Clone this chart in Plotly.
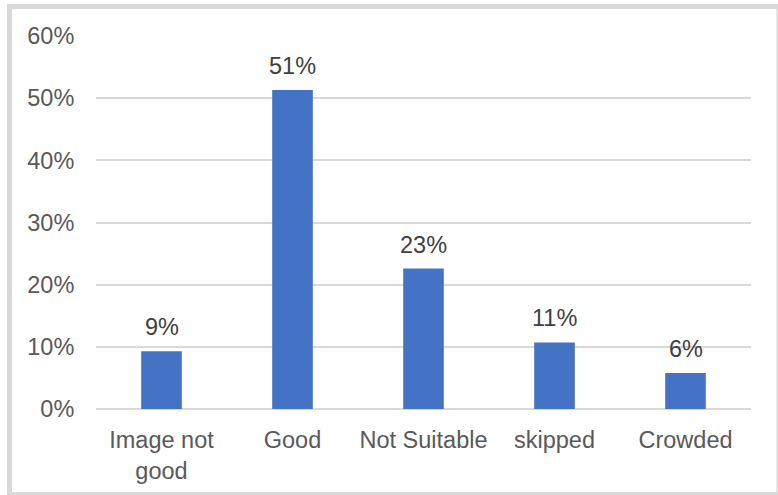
import plotly.graph_objects as go

categories = ["Image not good", "Good", "Not Suitable", "skipped", "Crowded"]
tick_labels = ["Image not<br>good", "Good", "Not Suitable", "skipped", "Crowded"]
values = [0.093, 0.513, 0.226, 0.107, 0.058]
y_ticks = [0, 0.1, 0.2, 0.3, 0.4, 0.5, 0.6]

FONT = "Liberation Sans, Arial, sans-serif"
fig = go.Figure()
fig.add_trace(go.Bar(
    x=categories, y=values, marker=dict(color="#4472C4", line=dict(width=0)),
    width=0.31, hoverinfo="skip"))

for c, v in zip(categories, values):
    fig.add_annotation(x=c, y=v, text=f"{round(v*100)}%", showarrow=False,
                       yanchor="bottom", yshift=9,
                       font=dict(family=FONT, size=23.5, color="#404040"))

W, H = 778, 495
l, r, t, b = 96, 27, 36, 86
pw, ph = W - l - r, H - t - b
def px(x): return (x - l) / pw
def py(y): return (H - b - y) / ph

fig.add_shape(type="rect", xref="paper", yref="paper",
              x0=px(9.5), x1=px(779), y0=py(494.5), y1=py(6.5),
              line=dict(color="#d9d9d9", width=5), fillcolor="rgba(0,0,0,0)", layer="below")

fig.update_layout(
    width=W, height=H, margin=dict(l=l, r=r, t=t, b=b),
    paper_bgcolor="white", plot_bgcolor="white", showlegend=False,
    font=dict(family=FONT, size=23.5, color="#595959"),
    xaxis=dict(tickmode="array", tickvals=categories, ticktext=tick_labels,
               showgrid=False, showline=False, ticks="outside", ticklen=10,
               tickcolor="rgba(0,0,0,0)", tickfont=dict(size=23.5, color="#595959")),
    yaxis=dict(range=[0, 0.6], tickvals=y_ticks, tickformat=".0%",
               showgrid=True, gridcolor="#d9d9d9", gridwidth=1.5,
               zeroline=True, zerolinecolor="#d9d9d9", zerolinewidth=1.5,
               ticks="outside", ticklen=16, tickcolor="rgba(0,0,0,0)",
               tickfont=dict(size=23.5, color="#595959")),
)
fig.write_html("out.html")
